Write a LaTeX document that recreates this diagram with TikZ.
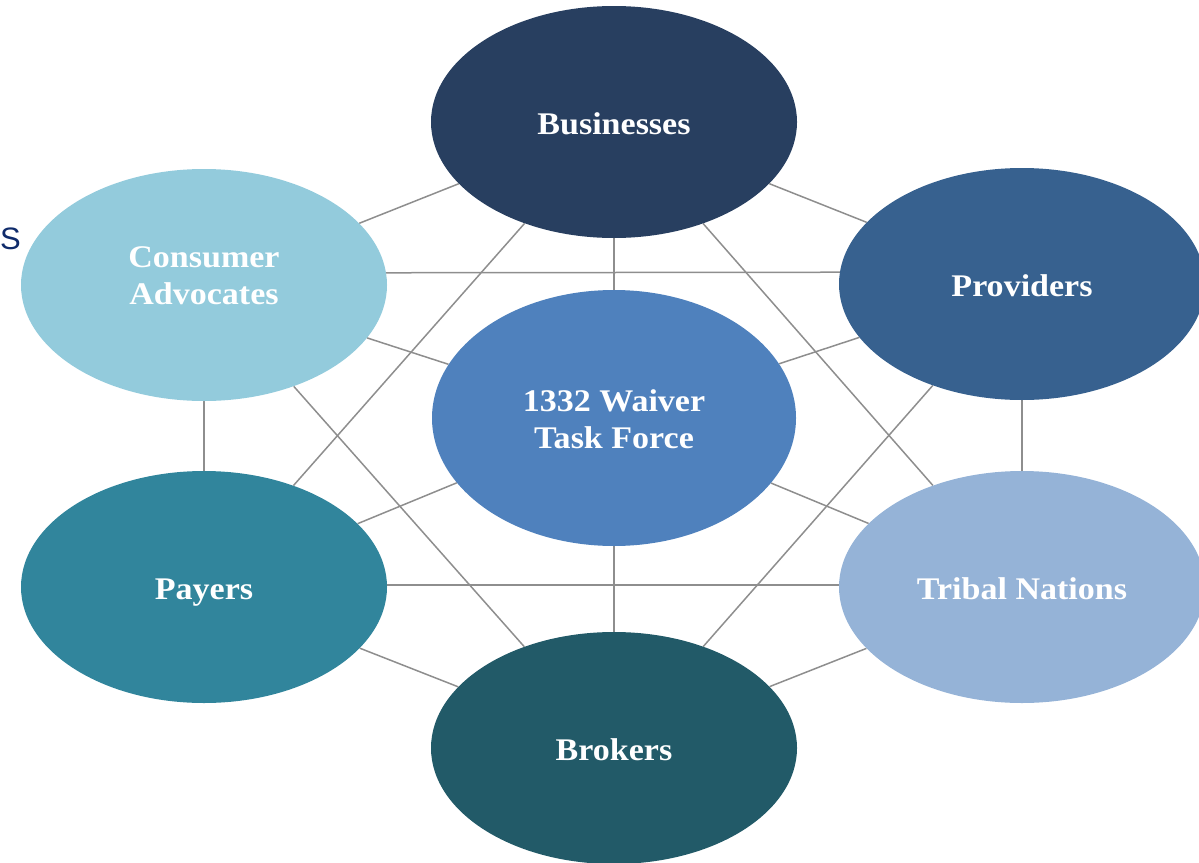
\documentclass[tikz,border=0pt]{standalone}
\usepackage{fontspec}
\setmainfont{Liberation Serif}[FakeStretch=1.08]
\newfontfamily\sansS{Liberation Sans}
\usetikzlibrary{shapes.geometric,backgrounds}
\definecolor{cBus}{HTML}{283F60}
\definecolor{cCon}{HTML}{93CBDC}
\definecolor{cPro}{HTML}{37618F}
\definecolor{cCen}{HTML}{4F81BD}
\definecolor{cPay}{HTML}{31859C}
\definecolor{cTri}{HTML}{95B3D7}
\definecolor{cBro}{HTML}{225A68}
\definecolor{cS}{HTML}{0F2B6B}
\definecolor{cLine}{HTML}{8E8E8E}
\tikzset{
  oval/.style={ellipse, draw=none, inner sep=0pt, minimum width=366pt, minimum height=232pt,
    text=white, font=\fontsize{31.5}{37}\selectfont\bfseries, align=center},
  oneline/.style={text height=31pt, text depth=6pt},
  lbl/.style={text=white, font=\fontsize{31.5}{37}\selectfont\bfseries, align=center, inner sep=0pt},
  link/.style={draw=cLine, line width=1.5pt}
}
\begin{document}
\begin{tikzpicture}[x=1pt,y=-1pt]
\useasboundingbox (0,0) rectangle (1199,862);
\clip (0,0) rectangle (1199,862);
\node[oval, oneline, fill=cBus] (bus) at (614,122) {Businesses};
\node[oval, fill=cCon] (con) at (204,285) {};
\node[lbl] (contxt) at (204,276) {Consumer\\Advocates};
\node[oval, oneline, fill=cPro] (pro) at (1022,284) {Providers};
\node[oval, fill=cCen, minimum width=364pt, minimum height=256pt] (cen) at (614,418) {};
\node[lbl] (centxt) at (614,419) {1332 Waiver\\Task Force};
\node[oval, oneline, fill=cPay] (pay) at (204,587) {Payers};
\node[oval, oneline, fill=cTri] (tri) at (1022,587) {Tribal Nations};
\node[oval, oneline, fill=cBro] (bro) at (614,748) {Brokers};
\node[text=cS, font=\sansS\fontsize{31}{36}\selectfont, anchor=west, inner sep=0pt] (s) at (0,239) {S};
\begin{scope}[on background layer]
\draw[link] (bus) -- (con);
\draw[link] (bus) -- (pro);
\draw[link] (bus) -- (cen);
\draw[link] (bus) -- (pay);
\draw[link] (bus) -- (tri);
\draw[link] ([yshift=12pt]con.center) -- ([yshift=12pt]pro.center);
\draw[link] (con) -- (cen);
\draw[link] (con) -- (pay);
\draw[link] (con) -- (bro);
\draw[link] (pro) -- (cen);
\draw[link] (pro) -- (tri);
\draw[link] (pro) -- (bro);
\draw[link] ([yshift=2pt]pay.center) -- ([yshift=2pt]tri.center);
\draw[link] (pay) -- (cen);
\draw[link] (pay) -- (bro);
\draw[link] (tri) -- (cen);
\draw[link] (tri) -- (bro);
\draw[link] (cen) -- (bro);
\end{scope}
\end{tikzpicture}
\end{document}
